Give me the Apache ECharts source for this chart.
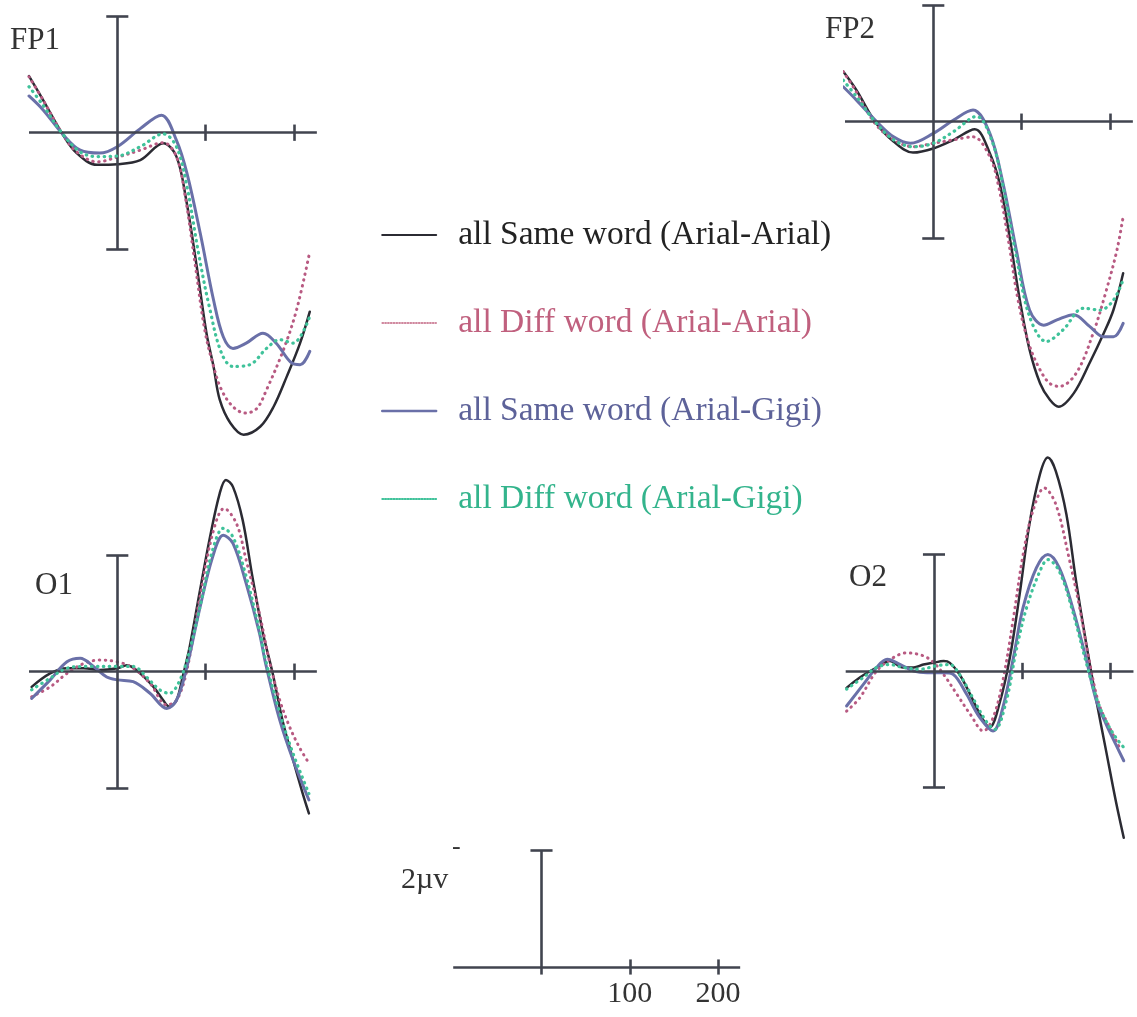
<!DOCTYPE html>
<html><head><meta charset="utf-8">
<script src="https://cdn.jsdelivr.net/npm/echarts@6/dist/echarts.min.js"></script>
<style>html,body{margin:0;padding:0;background:#fff}#c{width:1137px;height:1017px}</style>
</head><body><div id="c"></div>
<script>
// ---- legend / series names ----
const seriesNames = ['all Same word (Arial-Arial)', 'all Diff word (Arial-Arial)', 'all Same word (Arial-Gigi)', 'all Diff word (Arial-Gigi)'];
const panelNames = ['FP1', 'FP2', 'O1', 'O2'];
const scaleTicks = [100, 200];
const panelTicks = [100, 200];
const axisSpan = [-100, 226];
const barSpan = [-2, 2];
const scaleBarSpan = [0, 2];
const scaleLabel = '2µv';

// ---- data: [time ms, amplitude µV] ----
const fp1SameAA = [[-100,0.97],[-84,0.56],[-63,0],[-46,-0.35],[-23,-0.55],[0,-0.54],[26,-0.47],[52,-0.18],[67,-0.41],[78,-1.15],[90,-2.3],[101,-3.44],[109,-4.01],[116,-4.58],[128,-4.98],[143,-5.18],[162,-5.04],[177,-4.7],[192,-4.18],[207,-3.61],[218,-3.07]];
const fp1DiffAA = [[-100,0.96],[-84,0.56],[-63,0],[-46,-0.33],[-23,-0.5],[0,-0.42],[26,-0.3],[52,-0.17],[67,-0.41],[77,-1.1],[88,-2.24],[99,-3.38],[109,-4.01],[118,-4.41],[131,-4.7],[145,-4.81],[158,-4.73],[169,-4.41],[188,-3.73],[203,-3.04],[218,-2.04]];
const fp1SameAG = [[-100,0.63],[-84,0.39],[-61,-0.04],[-42,-0.3],[-20,-0.35],[0,-0.24],[26,0.07],[50,0.3],[67,-0.13],[79,-0.7],[94,-1.73],[109,-2.87],[120,-3.5],[131,-3.7],[146,-3.61],[165,-3.44],[180,-3.61],[196,-3.93],[207,-3.98],[218,-3.75]];
const fp1DiffAG = [[-100,0.79],[-84,0.47],[-63,0],[-42,-0.33],[-23,-0.41],[0,-0.4],[26,-0.24],[52,-0.02],[67,-0.24],[79,-0.93],[92,-2.07],[105,-3.04],[118,-3.78],[131,-4.01],[150,-3.98],[169,-3.7],[184,-3.55],[199,-3.61],[218,-3.15]];

const fp2SameAA = [[-102,0.86],[-87,0.54],[-66,0],[-45,-0.34],[-23,-0.53],[0,-0.46],[23,-0.31],[47,-0.13],[64,-0.54],[76,-1.11],[87,-2.03],[98,-3.06],[109,-3.91],[121,-4.49],[132,-4.77],[142,-4.89],[159,-4.66],[177,-4.14],[193,-3.63],[204,-3.23],[215,-2.6]];
const fp2DiffAA = [[-102,0.86],[-87,0.51],[-66,-0.03],[-45,-0.31],[-23,-0.43],[0,-0.37],[23,-0.31],[45,-0.26],[64,-0.6],[74,-1.11],[85,-2.03],[96,-3.06],[108,-3.8],[121,-4.26],[132,-4.49],[143,-4.54],[162,-4.31],[181,-3.63],[196,-2.89],[208,-2.2],[215,-1.63]];
const fp2SameAG = [[-102,0.6],[-87,0.37],[-64,0],[-45,-0.26],[-26,-0.37],[0,-0.2],[23,0.03],[45,0.2],[64,-0.2],[79,-1.06],[94,-2.2],[109,-3.23],[125,-3.49],[140,-3.4],[159,-3.31],[177,-3.51],[193,-3.69],[204,-3.69],[215,-3.46]];
const fp2DiffAG = [[-102,0.71],[-87,0.43],[-66,0],[-45,-0.31],[-23,-0.43],[0,-0.37],[23,-0.17],[49,0.09],[66,-0.31],[79,-1.11],[94,-2.31],[109,-3.34],[128,-3.77],[147,-3.57],[170,-3.2],[189,-3.23],[204,-3.06],[215,-2.71]];

const o1SameAA = [[-97,-0.26],[-76,-0.03],[-57,0.06],[-38,0.06],[-20,0.03],[0,0.06],[11,0.11],[26,-0.03],[41,-0.26],[52,-0.49],[59,-0.6],[67,-0.49],[74,-0.09],[82,0.43],[93,1.34],[105,2.31],[116,3.06],[123,3.29],[131,3.17],[142,2.6],[153,1.63],[165,0.66],[176,-0.03],[187,-0.83],[199,-1.51],[210,-2.09],[217,-2.43]];
const o1DiffAA = [[-97,-0.43],[-76,-0.26],[-57,-0.03],[-38,0.14],[-20,0.2],[0,0.17],[18,0.06],[37,-0.2],[56,-0.57],[67,-0.49],[78,-0.03],[93,1.23],[108,2.37],[121,2.8],[135,2.54],[146,1.91],[161,1.0],[172,0.2],[184,-0.49],[195,-0.94],[206,-1.29],[217,-1.57]];
const o1SameAG = [[-97,-0.46],[-76,-0.14],[-57,0.17],[-42,0.23],[-27,0.09],[-12,-0.09],[0,-0.14],[18,-0.17],[37,-0.37],[56,-0.63],[67,-0.49],[78,0.03],[93,1.06],[108,1.97],[120,2.34],[131,2.2],[146,1.51],[161,0.66],[168,0.14],[184,-0.83],[199,-1.51],[217,-2.2]];
const o1DiffAG = [[-97,-0.31],[-76,-0.11],[-57,0.06],[-35,0.09],[0,0.09],[18,0.09],[33,-0.09],[48,-0.31],[59,-0.37],[71,-0.14],[82,0.37],[97,1.34],[108,2.09],[120,2.46],[131,2.31],[146,1.63],[161,0.71],[168,0.2],[184,-0.71],[199,-1.4],[217,-2.09]];

const o2SameAA = [[-99,-0.29],[-84,-0.11],[-65,0.06],[-50,0.17],[-35,0.06],[-23,0.06],[-12,0.11],[-1,0.14],[11,0.17],[18,0.14],[29,-0.06],[41,-0.4],[52,-0.74],[63,-0.97],[74,-0.57],[86,0.23],[97,1.31],[108,2.51],[120,3.37],[129,3.66],[138,3.43],[150,2.69],[161,1.54],[172,0.51],[184,-0.51],[195,-1.37],[206,-2.23],[215,-2.86]];
const o2DiffAA = [[-99,-0.69],[-84,-0.46],[-65,0],[-46,0.23],[-31,0.31],[-12,0.26],[0,0.14],[11,-0.06],[26,-0.4],[41,-0.74],[56,-1.03],[67,-0.8],[78,-0.17],[90,0.91],[101,2.0],[112,2.74],[125,3.14],[138,2.86],[153,1.94],[165,1.09],[176,0.17],[187,-0.57],[199,-0.97],[210,-1.31]];
const o2SameAG = [[-99,-0.6],[-80,-0.23],[-65,0.06],[-53,0.2],[-38,0.11],[-23,0],[-8,-0.03],[11,-0.03],[22,-0.06],[37,-0.4],[52,-0.8],[67,-1.03],[78,-0.63],[90,0.23],[101,1.09],[116,1.77],[129,2.0],[142,1.77],[157,1.09],[172,0.23],[184,-0.51],[195,-0.91],[206,-1.26],[215,-1.54]];
const o2DiffAG = [[-99,-0.31],[-80,-0.11],[-65,0.06],[-50,0.11],[-35,0.06],[-16,0.03],[3,0.09],[18,0.11],[29,-0.06],[44,-0.46],[59,-0.86],[69,-1.0],[82,-0.51],[93,0.34],[105,1.09],[120,1.71],[129,1.91],[142,1.71],[157,1.03],[172,0.17],[184,-0.46],[195,-0.86],[206,-1.14],[215,-1.31]];

// ---- layout / style ----
const PX_MS = 0.883, PX_UV = 58.3;
const SERIF = '"Liberation Serif", "Times New Roman", serif';
const AXIS_COLOR = '#41444f';
const styles = [
  {color:'#2b2b33', width:2.5, type:'solid', cap:'round'},
  {color:'#b85a82', width:3, type:[0.5,5.5], cap:'round'},
  {color:'#6a70a8', width:3, type:'solid', cap:'round'},
  {color:'#3fc29a', width:3.2, type:[0.5,5.5], cap:'round'}
];
const legendText = ['#222222', '#c0607e', '#5d6299', '#33b48c'];
const legendLine = [
  {color:'#2b2b33', width:2, type:'solid'},
  {color:'#c0607e', width:1.6, type:[1.2,1.6]},
  {color:'#6a70a8', width:2.4, type:'solid'},
  {color:'#3fc29a', width:1.8, type:[1.2,1.6]}
];

const panels = [
  {label:'FP1', zero:[117.3,132.7], y:[-5.6,2.1], data:[fp1SameAA, fp1DiffAA, fp1SameAG, fp1DiffAG], lab:[10,25]},
  {label:'FP2', zero:[933.3,121.7], y:[-5.3,2.05], data:[fp2SameAA, fp2DiffAA, fp2SameAG, fp2DiffAG], lab:[825,14]},
  {label:'O1', zero:[117.3,671.7], y:[-2.7,3.6], data:[o1SameAA, o1DiffAA, o1SameAG, o1DiffAG], lab:[35,570]},
  {label:'O2', zero:[934,671], y:[-3.1,3.9], data:[o2SameAA, o2DiffAA, o2SameAG, o2DiffAG], lab:[849,562]}
];
const XR = [-100, 230];

const grids = [], xAxes = [], yAxes = [], series = [], titles = [];

function gridFor(zero, yr) {
  return {
    left: zero[0] + XR[0]*PX_MS,
    width: (XR[1]-XR[0])*PX_MS,
    top: zero[1] - yr[1]*PX_UV,
    height: (yr[1]-yr[0])*PX_UV
  };
}
function seg(a, b) { return [{coord:a},{coord:b}]; }

panels.forEach((p, i) => {
  grids.push(gridFor(p.zero, p.y));
  xAxes.push({type:'value', gridIndex:i, min:XR[0], max:XR[1], show:false});
  yAxes.push({type:'value', gridIndex:i, min:p.y[0], max:p.y[1], show:false});
  const frame = [
    seg([axisSpan[0],0],[axisSpan[1],0]),
    ...panelTicks.map(t => seg([t,-0.14],[t,0.14])),
    seg([0,barSpan[0]],[0,barSpan[1]]),
    seg([-12.5,barSpan[0]],[12.5,barSpan[0]]),
    seg([-12.5,barSpan[1]],[12.5,barSpan[1]])
  ];
  series.push({
    type:'line', name:'frame'+i, xAxisIndex:i, yAxisIndex:i, data:[], silent:true, z:1,
    markLine:{symbol:['none','none'], silent:true, animation:false, label:{show:false},
      lineStyle:{color:AXIS_COLOR, width:2.6, type:'solid'}, emphasis:{disabled:true}, data:frame}
  });
  p.data.forEach((d, k) => {
    const s = styles[k];
    series.push({
      type:'line', name:seriesNames[k], xAxisIndex:i, yAxisIndex:i, data:d,
      smooth:0.35, symbol:'none', z:2+k, silent:true,
      lineStyle:{color:s.color, width:s.width, type:s.type, cap:s.cap},
      itemStyle:{color:s.color}
    });
  });
  titles.push({text:p.label, left:p.lab[0], top:p.lab[1], padding:0,
    textStyle:{fontFamily:SERIF, fontSize:31, fontWeight:'normal', color:'#333'}});
});

// scale bar grid
const sIdx = panels.length;
const sZero = [541.5, 967], sY = [-0.15, 2.1];
grids.push(gridFor(sZero, sY));
xAxes.push({type:'value', gridIndex:sIdx, min:XR[0], max:XR[1], interval:100,
  axisLine:{show:false}, axisTick:{show:false}, splitLine:{show:false},
  axisLabel:{margin:3, showMaxLabel:false, fontFamily:SERIF, fontSize:30, color:'#333',
    formatter: v => scaleTicks.includes(v) ? String(v) : ''}});
yAxes.push({type:'value', gridIndex:sIdx, min:sY[0], max:sY[1], show:false});
series.push({
  type:'line', name:'scalebar', xAxisIndex:sIdx, yAxisIndex:sIdx, data:[], silent:true,
  markLine:{symbol:['none','none'], silent:true, animation:false, label:{show:false},
    lineStyle:{color:AXIS_COLOR, width:2.6, type:'solid'},
    data:[
      seg([axisSpan[0],0],[axisSpan[1]-1,0]),
      ...scaleTicks.map(t => seg([t,-0.13],[t,0.13])),
      seg([0,-0.13],[0,scaleBarSpan[1]]),
      seg([-12.5,scaleBarSpan[1]],[12.5,scaleBarSpan[1]])
    ]}
});

const option = {
  animation:false,
  backgroundColor:'#ffffff',
  title:titles,
  grid:grids, xAxis:xAxes, yAxis:yAxes, series:series,
  legend:{
    orient:'vertical', left:376, top:210, itemGap:48, itemWidth:54, itemHeight:14,
    selectedMode:false,
    textStyle:{fontFamily:SERIF, fontSize:33.5, lineHeight:40, padding:[0,0,0,17]},
    data: seriesNames.map((n,k) => ({name:n,
      textStyle:{color:legendText[k]}, lineStyle:legendLine[k], itemStyle:{opacity:0}}))
  },
  graphic:[
    {type:'text', left:401, top:865, style:{text:scaleLabel, font:'30px '+SERIF, fill:'#333'}},
    {type:'text', left:452, top:834, style:{text:'-', font:'26px '+SERIF, fill:'#333'}}
  ]
};
const chart = echarts.init(document.getElementById('c'));
chart.setOption(option);
</script></body></html>
